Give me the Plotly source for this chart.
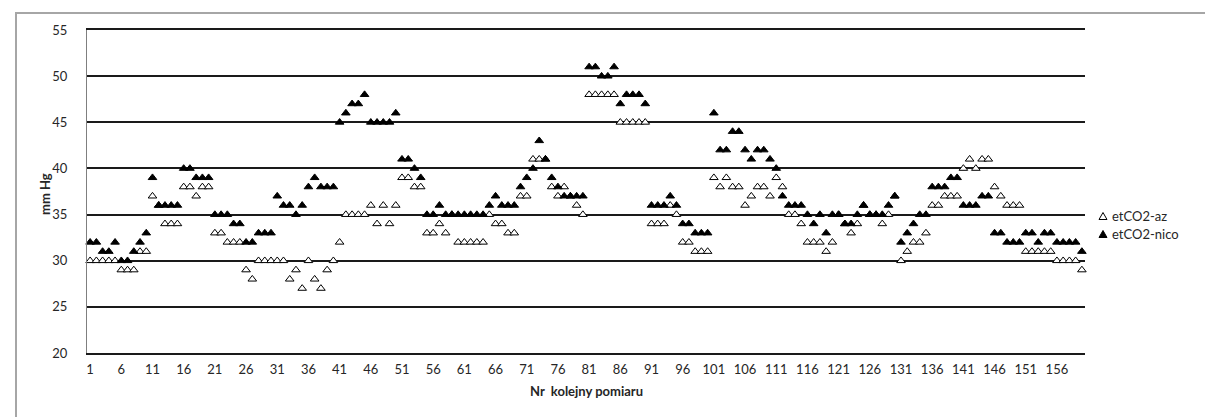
import plotly.graph_objects as go

# ---- data ----
measurement = list(range(1, 161))

etco2_az = [
    30, 30, 30, 30, 30, 29, 29, 29, 31, 31,
    37, 36, 34, 34, 34, 38, 38, 37, 38, 38,
    33, 33, 32, 32, 32, 29, 28, 30, 30, 30,
    30, 30, 28, 29, 27, 30, 28, 27, 29, 30,
    32, 35, 35, 35, 35, 36, 34, 36, 34, 36,
    39, 39, 38, 38, 33, 33, 34, 33, 35, 32,
    32, 32, 32, 32, 35, 34, 34, 33, 33, 37,
    37, 41, 41, 41, 38, 37, 38, 37, 36, 35,
    48, 48, 48, 48, 48, 45, 45, 45, 45, 45,
    34, 34, 34, 36, 35, 32, 32, 31, 31, 31,
    39, 38, 39, 38, 38, 36, 37, 38, 38, 37,
    39, 38, 35, 35, 34, 32, 32, 32, 31, 32,
    35, 34, 33, 34, 36, 35, 35, 34, 35, 37,
    30, 31, 32, 32, 33, 36, 36, 37, 37, 37,
    40, 41, 40, 41, 41, 38, 37, 36, 36, 36,
    31, 31, 31, 31, 31, 30, 30, 30, 30, 29,
]

etco2_nico = [
    32, 32, 31, 31, 32, 30, 30, 31, 32, 33,
    39, 36, 36, 36, 36, 40, 40, 39, 39, 39,
    35, 35, 35, 34, 34, 32, 32, 33, 33, 33,
    37, 36, 36, 35, 36, 38, 39, 38, 38, 38,
    45, 46, 47, 47, 48, 45, 45, 45, 45, 46,
    41, 41, 40, 39, 35, 35, 36, 35, 35, 35,
    35, 35, 35, 35, 36, 37, 36, 36, 36, 38,
    39, 40, 43, 41, 39, 38, 37, 37, 37, 37,
    51, 51, 50, 50, 51, 47, 48, 48, 48, 47,
    36, 36, 36, 37, 36, 34, 34, 33, 33, 33,
    46, 42, 42, 44, 44, 42, 41, 42, 42, 41,
    40, 37, 36, 36, 36, 35, 34, 35, 33, 35,
    35, 34, 34, 35, 36, 35, 35, 35, 36, 37,
    32, 33, 34, 35, 35, 38, 38, 38, 39, 39,
    36, 36, 36, 37, 37, 33, 33, 32, 32, 32,
    33, 33, 32, 33, 33, 32, 32, 32, 32, 31,
]

x_tick_values = list(range(1, 161, 5))
x_tick_labels = [str(v) for v in x_tick_values]
y_tick_values = [20, 25, 30, 35, 40, 45, 50, 55]
series_names = ["etCO2-az", "etCO2-nico"]

# ---- layout geometry (pixels) ----
W, H = 1213, 417
L, R, T, B = 79, 1077, 22, 345
FONT = "Lato, Carlito, Calibri, sans-serif"
TXT = "#262626"


def px(xp):
    return (xp - L) / (R - L)


def py(yp):
    return (B - yp) / (B - T)


fig = go.Figure()
fig.add_trace(go.Scatter(
    x=measurement, y=etco2_az, mode="markers", name=series_names[0],
    marker=dict(symbol="triangle-up", size=7.5, color="white",
                line=dict(color="black", width=1)),
    showlegend=False, cliponaxis=False))
fig.add_trace(go.Scatter(
    x=measurement, y=etco2_nico, mode="markers", name=series_names[1],
    marker=dict(symbol="triangle-up", size=7.5, color="black",
                line=dict(color="black", width=1)),
    showlegend=False, cliponaxis=False))

shapes = []
# outer chart border
shapes.append(dict(type="rect", xref="paper", yref="paper",
                   x0=px(8), x1=px(1206), y0=py(411), y1=py(5),
                   line=dict(color="#A6A6A6", width=2), layer="below"))


def tri(cx, cy, w=8, h=7):
    return "M {:.5f},{:.5f} L {:.5f},{:.5f} L {:.5f},{:.5f} Z".format(
        px(cx - w / 2), py(cy + h / 2), px(cx + w / 2), py(cy + h / 2),
        px(cx), py(cy - h / 2))


leg_x = 1095
leg_y = [208, 226]
shapes.append(dict(type="path", xref="paper", yref="paper", path=tri(leg_x, leg_y[0]),
                   fillcolor="white", line=dict(color="black", width=1)))
shapes.append(dict(type="path", xref="paper", yref="paper", path=tri(leg_x, leg_y[1]),
                   fillcolor="black", line=dict(color="black", width=1)))

annotations = []
for name, yy in zip(series_names, leg_y):
    annotations.append(dict(text=name, xref="paper", yref="paper",
                            x=px(leg_x + 7), y=py(yy), xanchor="left", yanchor="middle",
                            showarrow=False, font=dict(family=FONT, size=13, color=TXT)))
annotations.append(dict(text="<b>mm Hg</b>", xref="paper", yref="paper",
                        x=px(37), y=py(186), xanchor="center", yanchor="middle",
                        textangle=-90, showarrow=False,
                        font=dict(family=FONT, size=13, color=TXT)))
annotations.append(dict(text="<b>Nr\u00a0 kolejny pomiaru</b>", xref="paper", yref="paper",
                        x=px(578), y=py(383), xanchor="center", yanchor="middle",
                        showarrow=False, font=dict(family=FONT, size=13, color=TXT)))

fig.update_layout(
    width=W, height=H,
    margin=dict(l=L, r=W - R, t=T, b=H - B, pad=0),
    paper_bgcolor="white", plot_bgcolor="white",
    showlegend=False,
    shapes=shapes, annotations=annotations,
    font=dict(family=FONT, size=13, color=TXT),
    xaxis=dict(range=[0.5, 160.5], tickmode="array", tickvals=x_tick_values,
               ticktext=x_tick_labels, showgrid=False, zeroline=False,
               showline=True, mirror=True, linecolor="#1a1a1a", linewidth=2,
               ticks="", ticklabelstandoff=3,
               tickfont=dict(family=FONT, size=13, color=TXT)),
    yaxis=dict(range=[20, 55], tickmode="array", tickvals=y_tick_values,
               showgrid=True, gridcolor="#1a1a1a", gridwidth=2, zeroline=False,
               showline=True, linecolor="#7f7f7f", linewidth=1,
               ticks="", ticklabelstandoff=16,
               tickfont=dict(family=FONT, size=13, color=TXT)),
)

fig.write_html("out.html")
